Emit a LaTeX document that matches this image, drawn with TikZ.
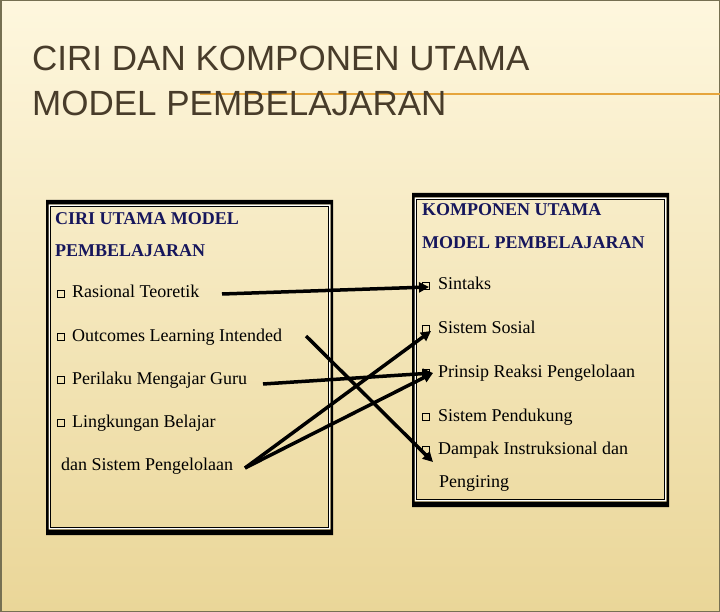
\documentclass[tikz,border=0pt]{standalone}
\usepackage{fontspec}
\setmainfont{Liberation Serif}
\newfontfamily\titlefont{Liberation Sans}
\usetikzlibrary{arrows.meta}
\definecolor{bgtop}{RGB}{254,247,222}
\definecolor{bgmid}{RGB}{250,236,190}
\definecolor{bgbot}{RGB}{234,214,152}
\definecolor{titlecol}{RGB}{72,60,42}
\definecolor{navy}{RGB}{22,22,92}
\definecolor{rulecol}{RGB}{230,165,60}
\definecolor{framecol}{RGB}{118,112,82}
\newcommand\dblframe[4]{%
  \fill[black, even odd rule] (#1,#2) rectangle (#3,#4) (#1+2.5,#2+4.5) rectangle (#3-2.5,#4-5.5);
  \draw[white, line width=1pt] (#1+3.2,#2+5.2) rectangle (#3-3.2,#4-6.2);
  \draw[black, line width=1.2pt] (#1+4.6,#2+6.6) rectangle (#3-4.6,#4-7.6);
}
\begin{document}
\begin{tikzpicture}[x=1pt,y=-1pt,
  lbl/.style={anchor=base west, inner sep=0pt, font=\fontsize{18}{20}\selectfont},
  head/.style={anchor=base west, inner sep=0pt, font=\fontsize{18}{20}\selectfont\bfseries, text=navy},
  ttl/.style={anchor=base west, inner sep=0pt, font=\titlefont\fontsize{35}{40}\selectfont, text=titlecol},
  bul/.style={draw, line width=0.8pt, minimum size=7pt, inner sep=0pt},
  conn/.style={line width=3.5pt, -{Triangle[length=10pt,width=10pt]}},
]
\useasboundingbox (0,0) rectangle (720,612);
% background
\shade[top color=bgtop, middle color=bgmid, bottom color=bgbot] (0,0) rectangle (720,612);
\draw[framecol, line width=1.5pt] (0.75,0.75) rectangle (719.25,611.25);
\draw[rulecol, line width=1.2pt] (200,94) -- (720,94);

% title
\node[ttl] (t1) at (32,71) {CIRI DAN KOMPONEN UTAMA};
\node[ttl] (t2) at (32,116) {MODEL PEMBELAJARAN};

% boxes
\dblframe{46}{200}{333}{535}
\dblframe{412}{193}{669}{507}

% left box
\node[head] (lh1) at (55,225) {CIRI UTAMA MODEL};
\node[head] (lh2) at (55,257) {PEMBELAJARAN};
\node[bul] (lb1) at (60.5,293.5) {};
\node[lbl] (l1) at (72,298) {Rasional Teoretik};
\node[bul] (lb2) at (60.5,336.5) {};
\node[lbl] (l2) at (72,341) {Outcomes Learning Intended};
\node[bul] (lb3) at (60.5,379.5) {};
\node[lbl] (l3) at (72,384) {Perilaku Mengajar Guru};
\node[bul] (lb4) at (60.5,422.5) {};
\node[lbl] (l4) at (72,427) {Lingkungan Belajar};
\node[lbl] (l5) at (61,470) {dan Sistem Pengelolaan};

% right box
\node[head] (rh1) at (422,216) {KOMPONEN UTAMA};
\node[head] (rh2) at (422,249) {MODEL PEMBELAJARAN};
\node[bul] (rb1) at (425.5,285.5) {};
\node[lbl] (r1) at (438,290) {Sintaks};
\node[bul] (rb2) at (425.5,328.5) {};
\node[lbl] (r2) at (438,333) {Sistem Sosial};
\node[bul] (rb3) at (425.5,372.5) {};
\node[lbl] (r3) at (438,377) {Prinsip Reaksi Pengelolaan};
\node[bul] (rb4) at (425.5,416.5) {};
\node[lbl] (r4) at (438,421) {Sistem Pendukung};
\node[bul] (rb5) at (425.5,449.5) {};
\node[lbl] (r5) at (438,454) {Dampak Instruksional dan};
\node[lbl] (r6) at (439,487) {Pengiring};

% connector end points
\coordinate (s1) at (222,294);
\coordinate (e1) at (429,287);
\coordinate (s2) at (306,336);
\coordinate (e2) at (433,462);
\coordinate (s3) at (263,384);
\coordinate (e3) at (433,373);
\coordinate (s4) at (245,468);
\coordinate (e4) at (431,331);

\draw[conn] (s1) -- (e1);
\draw[conn] (s2) -- (e2);
\draw[conn] (s3) -- (e3);
\draw[conn] (s4) -- (e4);
\draw[conn] (s4) -- (e3);
\end{tikzpicture}
\end{document}
